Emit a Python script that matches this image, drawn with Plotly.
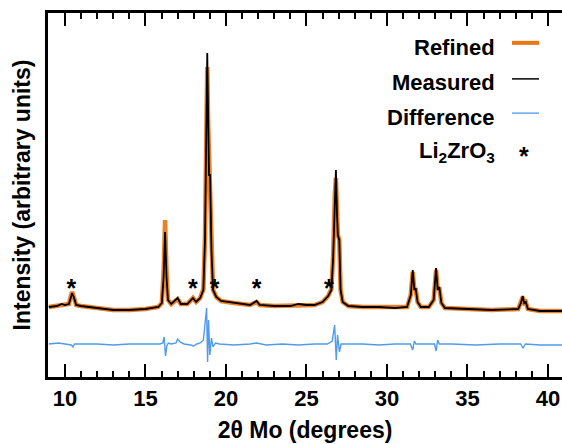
import plotly.graph_objects as go

# 2theta (degrees) and intensities (arbitrary units)
meas_x = [9.0, 9.5, 9.8, 10.0, 10.25, 10.35, 10.45, 10.55, 10.7, 11.0, 12.0, 13.0, 14.0, 15.0, 15.8,
          16.02, 16.13, 16.22, 16.31, 16.4, 16.6, 17.0, 17.2, 17.6, 17.95, 18.15, 18.4, 18.6,
          18.7, 18.78, 18.84, 18.9, 18.95, 19.02, 19.1, 19.2, 19.4, 19.7, 20.5, 21.5, 21.9, 22.1,
          23.0, 24.0, 24.5, 25.0, 25.5, 26.0, 26.35, 26.55, 26.66, 26.76, 26.83, 26.9, 26.95,
          27.04, 27.12, 27.25, 27.6, 28.5, 29.5, 30.5, 31.25, 31.48, 31.6, 31.7, 31.78, 31.9,
          32.1, 32.6, 32.9, 33.05, 33.15, 33.25, 33.38, 33.6, 35.0, 36.5, 38.15, 38.32, 38.43,
          38.52, 38.62, 38.75, 39.5, 40.9]
meas_y = [70, 71, 73, 72, 73, 80, 84, 80, 72, 71, 69, 67, 67, 68, 70,
          74, 100, 145, 100, 77, 73, 79, 73, 73, 79, 75, 79, 87,
          137, 257, 324, 257, 202, 202, 127, 87, 80, 76, 74, 72, 76, 72,
          71, 71, 73, 72, 72, 75, 81, 87, 120, 180, 207, 162, 142,
          137, 87, 75, 71, 70, 70, 69, 70, 82, 107, 87, 89, 75,
          70, 70, 77, 109, 87, 90, 74, 69, 68, 67, 68, 74, 81,
          74, 75, 68, 66, 66]

ref_x = meas_x
ref_y = [70, 71, 72, 72, 73, 80, 85, 80, 72, 71, 69, 67, 67, 68, 70,
         74, 105, 157, 105, 77, 73, 78, 73, 73, 79, 75, 79, 88,
         140, 250, 310, 250, 215, 212, 127, 87, 80, 76, 74, 72, 75, 72,
         71, 71, 72, 72, 72, 75, 81, 88, 122, 182, 199, 165, 142,
         137, 87, 75, 71, 70, 70, 69, 70, 82, 105, 87, 89, 75,
         70, 70, 77, 107, 87, 90, 74, 69, 68, 67, 68, 74, 80,
         74, 75, 68, 66, 66]

diff_x = [9.0, 9.6, 10.0, 10.4, 10.5, 10.6, 11.0, 12.0, 13.0, 14.0, 15.0, 15.9, 16.08, 16.16, 16.25,
          16.33, 16.42, 16.6, 16.9, 17.0, 17.15, 17.4, 17.8, 18.0, 18.2, 18.4,
          18.6, 18.72, 18.8, 18.86, 18.92, 19.0, 19.1, 19.2, 19.35, 19.6, 20.5, 21.5, 21.9, 22.5, 23.5,
          24.5, 25.5, 26.3, 26.6, 26.75, 26.85, 26.93, 27.05, 27.15, 27.4, 28.5, 29.5, 30.5,
          31.45, 31.6, 31.7, 31.8, 32.5, 32.95, 33.05, 33.15, 33.25, 34.0, 35.5, 37.0, 38.3,
          38.45, 38.6, 39.5, 40.9]
diff_y = [33, 34, 33, 32, 30, 33, 33, 33, 32, 33, 33, 33, 34, 40, 21,
          31, 34, 33, 34, 38, 35, 33, 32, 31, 33, 34,
          37, 55, 69, 15, 57, 22, 39, 30, 34, 33, 32, 33, 34, 32, 33,
          32, 33, 33, 36, 52, 17, 42, 25, 33, 33, 33, 32, 33,
          33, 27, 36, 33, 33, 33, 26, 37, 33, 33, 32, 33, 33,
          29, 33, 32, 32]

star_x = [10.4, 17.95, 19.3, 21.9, 26.4]
star_y = [86, 86, 86, 86, 86]

legend_names = ["Refined", "Measured", "Difference", "Li<sub>2</sub>ZrO<sub>3</sub>"]

ORANGE = "rgb(234,118,24)"
BLACK = "black"
BLUE = "rgb(80,155,235)"
FONT = "Liberation Sans"

fig = go.Figure()
fig.add_trace(go.Scatter(x=ref_x, y=ref_y, mode="lines",
                         line=dict(color=ORANGE, width=4.5), opacity=0.92, showlegend=False))
fig.add_trace(go.Scatter(x=meas_x, y=meas_y, mode="lines",
                         line=dict(color=BLACK, width=1.8), showlegend=False))
fig.add_trace(go.Scatter(x=diff_x, y=diff_y, mode="lines",
                         line=dict(color=BLUE, width=1.4), showlegend=False))
fig.add_trace(go.Scatter(x=star_x, y=star_y, mode="text", text=["*"] * len(star_x),
                         textposition="middle center",
                         textfont=dict(family=FONT, size=25, color="black", weight="bold"),
                         showlegend=False))

# hand-made legend (text left of the sample, as in the reference)
leg_y = [0.904, 0.808, 0.712, 0.618]
line_y = [0.918, 0.819, 0.725]
line_cols = [(ORANGE, 4), (BLACK, 1.5), (BLUE, 1.3)]
for name, yy in zip(legend_names, leg_y):
    fig.add_annotation(x=0.8735, y=yy, xref="paper", yref="paper", text=name,
                       showarrow=False, xanchor="right", yanchor="middle",
                       font=dict(family=FONT, size=22, color="black", weight="bold"))
for (c, w), yy in zip(line_cols, line_y):
    fig.add_shape(type="line", xref="paper", yref="paper", x0=0.9027, x1=0.9553, y0=yy, y1=yy,
                  line=dict(color=c, width=w))
fig.add_annotation(x=0.926, y=0.608, xref="paper", yref="paper", text="*", showarrow=False,
                   xanchor="center", yanchor="middle",
                   font=dict(family=FONT, size=25, color="black", weight="bold"))

axis_common = dict(showline=True, linecolor="black", linewidth=2.5, showgrid=False, zeroline=False)
tick_common = dict(tickvals=[10, 15, 20, 25, 30, 35, 40], ticks="inside", ticklen=13, tickwidth=2,
                   tickcolor="black",
                   minor=dict(dtick=1, tick0=0, ticks="inside", ticklen=6, tickwidth=2,
                              tickcolor="black"))
fig.update_layout(
    width=562, height=444,
    margin=dict(l=48, r=0, t=13, b=67),
    paper_bgcolor="white", plot_bgcolor="white",
    font=dict(family=FONT, size=20, color="black"),
    xaxis=dict(range=[8.95, 40.87],
               tickfont=dict(family=FONT, size=22, weight="bold"),
               title=dict(text="2θ Mo (degrees)", font=dict(family=FONT, size=23, weight="bold"),
                          standoff=12),
               automargin=False, **tick_common, **axis_common),
    xaxis2=dict(range=[8.95, 40.87], overlaying="x", side="top", showticklabels=False,
                automargin=False, **tick_common, **axis_common),
    yaxis=dict(range=[0, 364], showticklabels=False, ticks="",
               title=dict(text="Intensity (arbitrary units)",
                          font=dict(family=FONT, size=23, weight="bold"), standoff=9),
               automargin=False, **axis_common),
)
# invisible trace so the top axis is drawn
fig.add_trace(go.Scatter(x=[star_x[0]], y=[star_y[0]], xaxis="x2", mode="markers",
                         marker=dict(opacity=0), hoverinfo="skip", showlegend=False))

fig.write_html("out.html")
